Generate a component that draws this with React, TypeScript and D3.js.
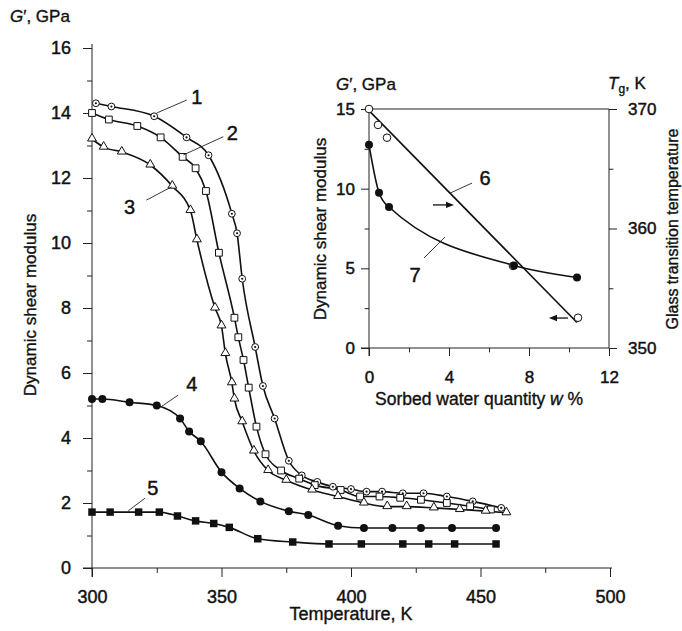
import * as d3 from "d3";
import React, { useEffect, useRef } from "react";

// main plot: temperature (K) vs dynamic shear modulus G' (GPa)
const temp1 = [301.5, 307.5, 324, 336.5, 345, 354, 356, 358, 363, 366, 370.5, 376, 381, 387, 393, 400, 406, 412, 420, 428, 437, 447, 458];
const mod1 = [14.3, 14.2, 13.9, 13.25, 12.7, 10.9, 10.3, 8.9, 6.8, 5.6, 4.6, 3.3, 2.85, 2.65, 2.5, 2.43, 2.35, 2.35, 2.3, 2.3, 2.2, 2.05, 1.85];

const temp2 = [300, 306.5, 317.5, 326.5, 335, 340, 344, 349, 355, 356.5, 358.5, 360.5, 363.5, 367, 373, 380, 386, 396, 403.5, 411, 419, 427, 437, 446, 454];
const mod2 = [14.0, 13.8, 13.6, 13.25, 12.65, 12.3, 11.6, 9.7, 7.7, 7.1, 6.4, 5.55, 4.35, 3.5, 3.0, 2.75, 2.55, 2.4, 2.2, 2.2, 2.16, 2.1, 2.0, 1.9, 1.8];

const temp3 = [300, 304.5, 311.5, 322.5, 331, 338, 340.5, 347.5, 350, 351.5, 354, 355, 358, 362.5, 368, 375, 385, 395, 405, 414, 421.5, 432, 442, 452, 460];
const mod3 = [13.2, 12.95, 12.8, 12.4, 11.75, 11.0, 10.1, 8.0, 7.45, 6.6, 5.7, 5.2, 4.5, 3.6, 3.0, 2.7, 2.4, 2.2, 2.0, 1.89, 1.89, 1.85, 1.8, 1.75, 1.7];

const temp4 = [300, 304, 314.5, 325, 334, 337.5, 342, 350, 357, 365, 376, 383.5, 395, 405, 416, 427, 439, 456];
const mod4 = [5.2, 5.2, 5.1, 5.0, 4.6, 4.2, 3.9, 2.95, 2.45, 2.05, 1.75, 1.63, 1.3, 1.23, 1.23, 1.23, 1.23, 1.23];

const temp5 = [300, 307, 318, 326, 333, 340, 347, 353, 364, 377.5, 391.5, 404, 420, 430, 440, 456];
const mod5 = [1.72, 1.72, 1.72, 1.72, 1.6, 1.45, 1.37, 1.25, 0.9, 0.8, 0.74, 0.74, 0.74, 0.74, 0.74, 0.74];

const mainXTicks = [300, 350, 400, 450, 500];
const mainXMinor = [325, 375, 425, 475];
const mainYTicks = [0, 2, 4, 6, 8, 10, 12, 14, 16];
const mainYMinor = [1, 3, 5, 7, 9, 11, 13, 15];

// inset: sorbed water w (%) vs G' (curve 6) and Tg (curve 7)
const water6 = [0, 0.45, 0.9, 7.2, 10.45];
const mod6 = [15.0, 14.0, 13.2, 5.15, 1.9];
const fitWater6 = [0, 10.4];
const fitMod6 = [14.9, 1.6];
const water7 = [0, 0.5, 1.0, 7.25, 10.4];
const tg7 = [367.0, 363.0, 361.8, 356.9, 355.9];

const insetXTicks = [0, 4, 8, 12];
const insetXMinor = [2, 6, 10];
const insetYTicks = [0, 5, 10, 15];
const insetYMinor = [2.5, 7.5, 12.5];
const insetTgTicks = [350, 360, 370];
const insetTgMinor = [355, 365];

const FONT = "'Liberation Sans', Arial, Helvetica, sans-serif";
const INK = "#111";
const HEAVY = 0.45; // scanned print looks a bit heavier than regular

const Chart = () => {
  const svgRef = useRef<SVGSVGElement>(null);

  useEffect(() => {
    const svg = d3.select(svgRef.current);
    svg.selectAll("*").remove();

    const x = d3.scaleLinear().domain([300, 500]).range([92, 610]);
    const y = d3.scaleLinear().domain([0, 16]).range([568, 48]);
    const ix = d3.scaleLinear().domain([0, 12]).range([369, 609]);
    const iy = d3.scaleLinear().domain([0, 15]).range([348, 109]);
    const itg = d3.scaleLinear().domain([350, 370]).range([348, 109]);

    const style = (g: any, fs: number) => {
      g.select(".domain").remove();
      g.selectAll("line").attr("stroke", "#222").attr("stroke-width", 1);
      g.selectAll("text").attr("font-family", FONT).attr("font-size", fs).attr("fill", INK)
        .attr("stroke", INK).attr("stroke-width", HEAVY);
    };

    const axis = (fn: any, scale: any, major: number[], minor: number[], tx: number, ty: number, size: number, pad: number, fs: number) => {
      const gm = svg.append("g").attr("transform", `translate(${tx},${ty})`);
      gm.call(fn(scale).tickValues(minor).tickSize(size * 0.55).tickSizeOuter(0).tickFormat(() => ""));
      style(gm, fs);
      const g = svg.append("g").attr("transform", `translate(${tx},${ty})`);
      g.call(fn(scale).tickValues(major).tickSize(size).tickPadding(pad).tickSizeOuter(0).tickFormat(d3.format("d")));
      style(g, fs);
    };

    const line = (x1: number, y1: number, x2: number, y2: number, w = 1) =>
      svg.append("line").attr("x1", x1).attr("y1", y1).attr("x2", x2).attr("y2", y2)
        .attr("stroke", "#222").attr("stroke-width", w);

    // ---- main axes
    line(x(300), y(16) - 4, x(300), y(0) + 9);
    line(x(300) - 9, y(0), x(500) + 2, y(0));
    axis(d3.axisLeft, y, mainYTicks, mainYMinor, x(300), 0, 9, 12, 18);
    axis(d3.axisBottom, x, mainXTicks, mainXMinor, 0, y(0), 9, 13, 18);

    // ---- inset axes + frame
    line(ix(0), iy(15), ix(0), iy(0) + 8);
    line(ix(0) - 8, iy(0), ix(12), iy(0));
    line(ix(0), iy(15), ix(12), iy(15));
    line(ix(12), iy(15), ix(12), iy(0));
    axis(d3.axisLeft, iy, insetYTicks, insetYMinor, ix(0), 0, 8, 6, 17);
    axis(d3.axisBottom, ix, insetXTicks, insetXMinor, 0, iy(0), 8, 15, 17);
    axis(d3.axisRight, itg, insetTgTicks, insetTgMinor, ix(12), 0, 8, 11, 17);

    // ---- main curves
    const series = [
      { t: temp1, g: mod1, mark: "circdot" },
      { t: temp2, g: mod2, mark: "square" },
      { t: temp3, g: mod3, mark: "triangle" },
      { t: temp4, g: mod4, mark: "dot" },
      { t: temp5, g: mod5, mark: "fsquare" },
    ];
    const path = d3.line<[number, number]>().curve(d3.curveMonotoneX);

    series.forEach(s => {
      const pts = s.t.map((t, i) => [x(t), y(s.g[i])] as [number, number]);
      svg.append("path").attr("d", path(pts)).attr("fill", "none").attr("stroke", INK).attr("stroke-width", 1.6);
    });

    const sym = (type: any, size: number) => d3.symbol().type(type).size(size)();
    series.forEach(s => {
      const g = svg.append("g");
      s.t.forEach((t, i) => {
        const px = x(t), py = y(s.g[i]);
        if (s.mark === "circdot") {
          g.append("circle").attr("cx", px).attr("cy", py).attr("r", 3.4).attr("fill", "#fff").attr("stroke", INK).attr("stroke-width", 1);
          g.append("circle").attr("cx", px).attr("cy", py).attr("r", 1.1).attr("fill", INK);
        } else if (s.mark === "square") {
          g.append("path").attr("d", sym(d3.symbolSquare, 46)).attr("transform", `translate(${px},${py})`)
            .attr("fill", "#fff").attr("stroke", INK).attr("stroke-width", 1);
        } else if (s.mark === "triangle") {
          g.append("path").attr("d", sym(d3.symbolTriangle, 34)).attr("transform", `translate(${px},${py - 0.5})`)
            .attr("fill", "#fff").attr("stroke", INK).attr("stroke-width", 1);
        } else if (s.mark === "dot") {
          g.append("circle").attr("cx", px).attr("cy", py).attr("r", 4).attr("fill", INK);
        } else {
          g.append("path").attr("d", sym(d3.symbolSquare, 56)).attr("transform", `translate(${px},${py})`).attr("fill", INK);
        }
      });
    });

    // curve labels with leader lines (data coords)
    const labels = [
      { s: "1", t: 340.5, g: 14.5, a: [336.6, 14.4], b: [325, 14.0] },
      { s: "2", t: 354.2, g: 13.4, a: [350.7, 13.27], b: [335.3, 12.71] },
      { s: "3", t: 314.5, g: 11.1, a: [321, 11.32], b: [330.8, 11.73] },
      { s: "4", t: 338.5, g: 5.65, a: [333.3, 5.32], b: [327, 4.98] },
      { s: "5", t: 323.5, g: 2.45, a: [320.5, 2.15], b: [314, 1.76] },
    ];
    const numLabel = (px: number, py: number, s: string) =>
      svg.append("text").attr("x", px).attr("y", py).attr("text-anchor", "middle")
        .attr("dominant-baseline", "central").attr("font-family", FONT).attr("font-size", 20)
        .attr("fill", INK).attr("stroke", INK).attr("stroke-width", HEAVY).text(s);
    labels.forEach(l => {
      line(x(l.a[0]), y(l.a[1]), x(l.b[0]), y(l.b[1]), 0.9);
      numLabel(x(l.t), y(l.g), l.s);
    });

    // ---- inset curves
    svg.append("path")
      .attr("d", d3.line<number>().x((w) => ix(w)).y((_, i) => iy(fitMod6[i]))(fitWater6))
      .attr("fill", "none").attr("stroke", INK).attr("stroke-width", 1.6);
    svg.append("path")
      .attr("d", d3.line<number>().curve(d3.curveMonotoneX).x((w) => ix(w)).y((_, i) => itg(tg7[i]))(water7))
      .attr("fill", "none").attr("stroke", INK).attr("stroke-width", 1.6);
    water6.forEach((w, i) => {
      svg.append("circle").attr("cx", ix(w)).attr("cy", iy(mod6[i])).attr("r", 3.8)
        .attr("fill", "#fff").attr("stroke", INK).attr("stroke-width", 1);
    });
    water7.forEach((w, i) => {
      svg.append("circle").attr("cx", ix(w)).attr("cy", itg(tg7[i])).attr("r", 4).attr("fill", INK);
    });

    const ilabels = [
      { s: "6", w: 5.8, g: 10.65, a: [5.15, 10.35], b: [4.05, 9.72] },
      { s: "7", w: 2.3, g: 4.6, a: [2.75, 5.65], b: [3.8, 6.97] },
    ];
    ilabels.forEach(l => {
      line(ix(l.a[0]), iy(l.a[1]), ix(l.b[0]), iy(l.b[1]), 0.9);
      numLabel(ix(l.w), iy(l.g), l.s);
    });

    const arrow = (w0: number, w1: number, g: number) => {
      const x0 = ix(w0), x1 = ix(w1), yy = iy(g);
      const dir = Math.sign(x1 - x0);
      line(x0, yy, x1 - dir * 3, yy, 1.4);
      svg.append("path").attr("d", `M${x1},${yy} L${x1 - dir * 8},${yy - 3.2} L${x1 - dir * 8},${yy + 3.2} Z`).attr("fill", INK);
    };
    arrow(3.2, 4.25, 8.98);
    arrow(9.95, 9.0, 1.88);

    // ---- titles
    const txt = (tx: number, ty: number, fs: number, rot = 0, anchor = "start") =>
      svg.append("text").attr("transform", `translate(${tx},${ty}) rotate(${rot})`).attr("text-anchor", anchor)
        .attr("font-family", FONT).attr("font-size", fs).attr("fill", INK)
        .attr("stroke", INK).attr("stroke-width", HEAVY * 0.8);

    const gMain = txt(10, 22, 17);
    gMain.append("tspan").attr("font-style", "italic").text("G");
    gMain.append("tspan").text("′, GPa");

    txt(36, 305, 17, -90, "middle").text("Dynamic shear modulus");
    txt(351, 620, 18, 0, "middle").text("Temperature, K");

    const gIn = txt(336, 90, 17);
    gIn.append("tspan").attr("font-style", "italic").text("G");
    gIn.append("tspan").text("′, GPa");

    const tgT = txt(608, 89, 17);
    tgT.append("tspan").attr("font-style", "italic").text("T");
    tgT.append("tspan").attr("font-size", 12).attr("dy", 4).text("g");
    tgT.append("tspan").attr("dy", -4).text(", K");

    txt(326, 229, 17, -90, "middle").text("Dynamic shear modulus");
    txt(678, 229, 16, -90, "middle").text("Glass transition temperature");

    const wq = txt(375, 405, 17.5);
    wq.append("tspan").text("Sorbed water quantity  ");
    wq.append("tspan").attr("font-style", "italic").text("w");
    wq.append("tspan").text(" %");
  }, []);

  return (
    <svg ref={svgRef} width={682} height={631}
      style={{ position: "absolute", left: 0, top: 0, background: "#fff", display: "block" }} />
  );
};

export default function App() {
  return <Chart />;
}
